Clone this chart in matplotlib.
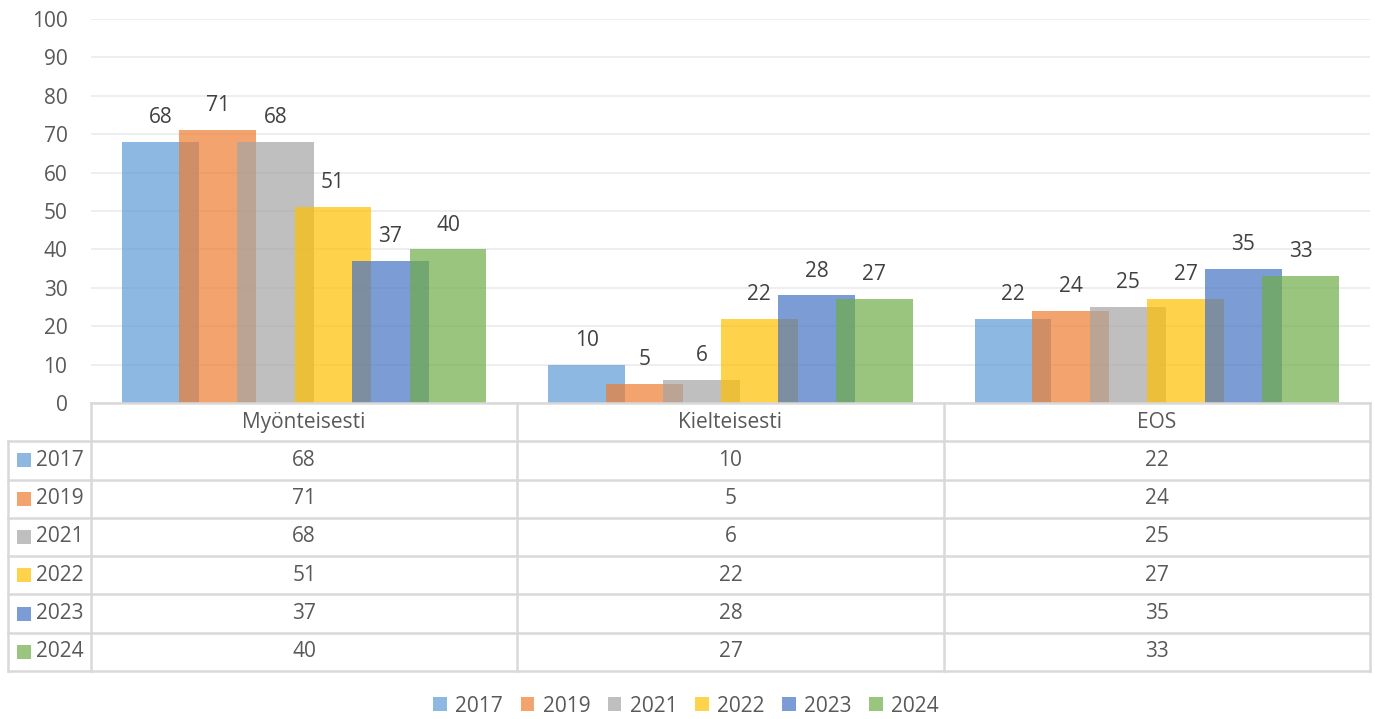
import matplotlib.pyplot as plt
from matplotlib.patches import Patch
import numpy as np

plt.rcParams['font.family'] = ['Open Sans', 'DejaVu Sans']

categories = ["Myönteisesti", "Kielteisesti", "EOS"]
years = ["2017", "2019", "2021", "2022", "2023", "2024"]
values = {
    "2017": [68, 10, 22],
    "2019": [71, 5, 24],
    "2021": [68, 6, 25],
    "2022": [51, 22, 27],
    "2023": [37, 28, 35],
    "2024": [40, 27, 33],
}
colors = ["#5B9BD5", "#ED7D31", "#A5A5A5", "#FFC000", "#4472C4", "#70AD47"]

W, H = 1375, 719
TXT = "#595959"
LINE = "#D9D9D9"
FS = 15


def px(l, t, r, b):
    return [l / W, 1 - b / H, (r - l) / W, (b - t) / H]


fig = plt.figure(figsize=(W / 100, H / 100), dpi=100)

# bar chart
ax = fig.add_axes(px(91, 19, 1370, 403))
x = np.arange(len(categories))
step, width, alpha = 0.135, 0.18, 0.7
for i, (yr, c) in enumerate(zip(years, colors)):
    pos = x + (i - 2.5) * step
    ax.bar(pos, values[yr], width=width, color=c, alpha=alpha, zorder=2 + i)
    for p, v in zip(pos, values[yr]):
        ax.annotate(str(v), (p, v), xytext=(0, 10), textcoords="offset points",
                    ha="center", va="bottom", fontsize=FS, color="#404040")

ax.set_xlim(-0.5, 2.5)
ax.set_ylim(0, 100)
ax.set_yticks(range(0, 101, 10))
ax.set_xticks([])
ax.yaxis.grid(True, color="#EBEBEB", lw=1.2, zorder=0)
ax.tick_params(axis="y", length=0, pad=17, labelsize=FS, labelcolor=TXT)
for s in ax.spines.values():
    s.set_visible(False)

# data table below the axis
unit = 1279 / 3
xmin = -0.5 - 83 / unit
tax = fig.add_axes(px(8, 403, 1370, 671))
tax.set_xlim(xmin, 2.5)
tax.set_ylim(7, 0)
tax.axis("off")

for k in range(8):
    tax.plot([-0.5 if k == 0 else xmin, 2.5], [k, k], color=LINE, lw=1.8, clip_on=False)
for xv in [-0.5, 0.5, 1.5, 2.5]:
    tax.plot([xv, xv], [0, 7], color=LINE, lw=1.8, clip_on=False)
tax.plot([xmin, xmin], [1, 7], color=LINE, lw=1.8, clip_on=False)

for j, cat in enumerate(categories):
    tax.text(j, 0.5, cat, ha="center", va="center", fontsize=FS, color=TXT)
for r, (yr, c) in enumerate(zip(years, colors)):
    yc = r + 1.5
    tax.scatter([xmin + 16 / unit], [yc], marker="s", s=95, color=c, alpha=alpha,
                linewidths=0, clip_on=False)
    tax.text(xmin + 28 / unit, yc, yr, ha="left", va="center", fontsize=FS, color=TXT)
    for j in range(len(categories)):
        tax.text(j, yc, str(values[yr][j]), ha="center", va="center", fontsize=FS, color=TXT)

# legend
handles = [Patch(facecolor=c, alpha=alpha, label=yr) for yr, c in zip(years, colors)]
fig.legend(handles=handles, loc="center", bbox_to_anchor=(686 / W, 1 - 706 / H),
           ncol=6, frameon=False, fontsize=FS, labelcolor=TXT, handlelength=0.65,
           handleheight=0.65, handletextpad=0.4, columnspacing=0.85)

fig.savefig("out.png", dpi=100)
